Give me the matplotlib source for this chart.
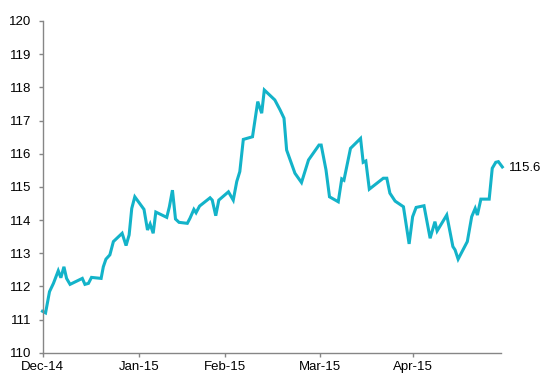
import matplotlib
matplotlib.use("Agg")
import matplotlib.pyplot as plt

# trading-day index (approx.) and index values
days = [0.0, 0.7, 1.6, 2.5, 3.6, 4.2, 4.9, 5.5, 6.3, 9.1, 9.7, 10.5, 11.2, 13.4, 13.9,
        14.5, 15.4, 16.2, 18.2, 19.1, 19.8, 20.4, 21.1, 23.2, 24.0, 24.6, 25.3, 25.9,
        28.4, 29.0, 29.7, 30.4, 31.2, 33.1, 33.7, 34.6, 35.1, 35.9, 38.3, 38.8, 39.6,
        40.3, 42.5, 43.6, 44.4, 45.1, 45.9, 48.0, 49.2, 50.1, 50.7, 53.1, 54.3, 55.2,
        55.8, 57.7, 59.2, 60.8, 63.2, 63.7, 64.8, 65.6, 67.6, 68.4, 68.9, 70.4, 72.7,
        73.3, 73.9, 74.7, 77.9, 78.7, 79.4, 80.6, 82.5, 83.8, 84.6, 85.4, 87.2, 88.6,
        89.7, 90.2, 92.4, 93.8, 94.3, 95.0, 97.1, 98.1, 98.9, 99.4, 100.2, 102.1, 102.8,
        103.6, 104.2, 105.1]
values = [111.25, 111.2, 111.84, 112.09, 112.47, 112.26, 112.59, 112.24, 112.06, 112.24,
          112.06, 112.09, 112.27, 112.24, 112.59, 112.82, 112.95, 113.35, 113.6, 113.23,
          113.55, 114.35, 114.7, 114.32, 113.7, 113.88, 113.6, 114.24, 114.08, 114.4,
          114.9, 114.03, 113.93, 113.9, 114.05, 114.32, 114.22, 114.42, 114.67, 114.6,
          114.13, 114.6, 114.85, 114.6, 115.16, 115.46, 116.43, 116.51, 117.57, 117.22,
          117.92, 117.62, 117.32, 117.07, 116.11, 115.41, 115.13, 115.81, 116.26, 116.26,
          115.51, 114.7, 114.55, 115.24, 115.2, 116.16, 116.46, 115.74, 115.78, 114.93,
          115.26, 115.26, 114.81, 114.57, 114.4, 113.28, 114.1, 114.38, 114.43, 113.45,
          113.95, 113.67, 114.15, 113.2, 113.1, 112.82, 113.35, 114.1, 114.35, 114.15,
          114.63, 114.63, 115.56, 115.74, 115.76, 115.6]

tick_pos = [0, 22.0, 41.6, 63.5, 84.6]
tick_labels = ["Dec-14", "Jan-15", "Feb-15", "Mar-15", "Apr-15"]
y_ticks = list(range(110, 121))

plt.rcParams['font.family'] = ['Liberation Sans', 'DejaVu Sans']

fig = plt.figure(figsize=(5.44, 3.83), dpi=100)
ax = fig.add_axes([42.5 / 544, 30.3 / 383, (501 - 42.5) / 544, (352.7 - 21) / 383])

color = "#13B3C9"
ax.plot(days, values, color=color, lw=2.2, clip_on=False, solid_joinstyle='miter')

ax.set_xlim(0, 104.8)
ax.set_ylim(110, 120)
ax.set_xticks(tick_pos)
ax.set_xticklabels(tick_labels)
ax.set_yticks(y_ticks)
ax.set_yticklabels([str(v) for v in y_ticks])

for s in ["top", "right"]:
    ax.spines[s].set_visible(False)
for s in ["left", "bottom"]:
    ax.spines[s].set_color("#868686")
    ax.spines[s].set_linewidth(1.0)

ax.tick_params(axis='both', colors="#868686", labelcolor="black", labelsize=9.5,
               length=3, width=1.0, direction='out')
ax.tick_params(axis='y', pad=5)
ax.tick_params(axis='x', pad=3)

ax.annotate(f"{values[-1]:.1f}", xy=(days[-1], values[-1]), xytext=(4.5, -1),
            textcoords='offset points', ha='left', va='center', fontsize=9.5,
            annotation_clip=False)

fig.savefig("out.png", dpi=100, facecolor="white")
